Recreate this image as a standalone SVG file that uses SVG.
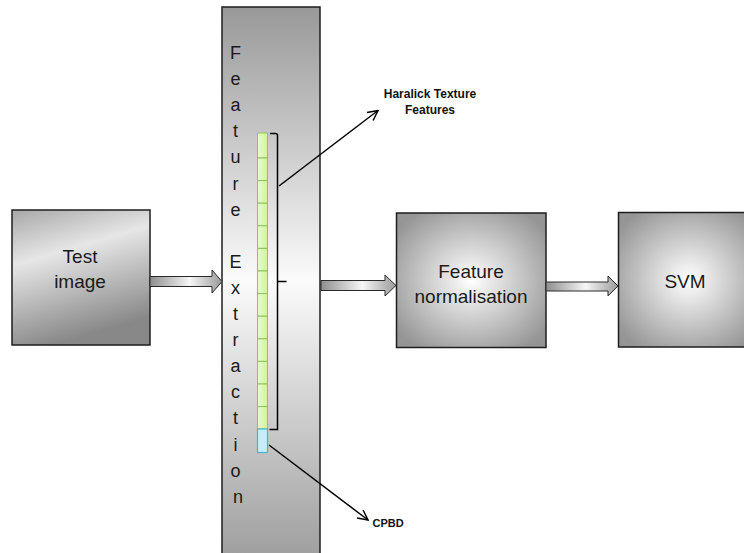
<svg xmlns="http://www.w3.org/2000/svg" width="744" height="553" viewBox="0 0 744 553">
  <defs>
    <linearGradient id="colGrad" gradientUnits="userSpaceOnUse" x1="0" y1="8" x2="0" y2="553">
      <stop offset="0" stop-color="#999999"/>
      <stop offset="0.5" stop-color="#fbfbfb"/>
      <stop offset="1" stop-color="#a0a0a0"/>
    </linearGradient>
    <linearGradient id="testGrad" x1="0" y1="0" x2="0.3" y2="1">
      <stop offset="0" stop-color="#a8a8a8"/>
      <stop offset="0.38" stop-color="#e6e6e6"/>
      <stop offset="1" stop-color="#888888"/>
    </linearGradient>
    <radialGradient id="boxGrad" cx="0.5" cy="0.5" r="0.62">
      <stop offset="0" stop-color="#ffffff"/>
      <stop offset="1" stop-color="#959595"/>
    </radialGradient>
    <linearGradient id="arrGrad" x1="0" y1="0" x2="1" y2="0">
      <stop offset="0" stop-color="#8e8e8e"/>
      <stop offset="0.55" stop-color="#f6f6f6"/>
      <stop offset="1" stop-color="#9a9a9a"/>
    </linearGradient>
    <linearGradient id="greenGrad" x1="0" y1="0" x2="1" y2="0">
      <stop offset="0" stop-color="#e9fcc8"/>
      <stop offset="1" stop-color="#d3f29c"/>
    </linearGradient>
    <marker id="open" viewBox="0 0 12 12" refX="11" refY="6" markerWidth="12" markerHeight="12" markerUnits="userSpaceOnUse" orient="auto">
      <path d="M1,1 L11,6 L1,11" fill="none" stroke="#000" stroke-width="1.5"/>
    </marker>
    <style>
      .box { stroke: #1e1e1e; stroke-width: 1.5; }
      .lbl { font-family: "Liberation Sans", Arial, sans-serif; font-size: 19px; fill: #1a1a1a; text-anchor: middle; }
      .col { font-family: "Liberation Sans", Arial, sans-serif; font-size: 18px; fill: #1a1a1a; text-anchor: middle; }
      .note { font-family: "Liberation Sans", Arial, sans-serif; font-weight: bold; fill: #111; }
      .blk { fill: url(#arrGrad); stroke: #2a2a2a; stroke-width: 1; }
      .cell { fill: url(#greenGrad); stroke: #93c255; stroke-width: 1; }
      .ln { fill: none; stroke: #000; stroke-width: 1.5; }
    </style>
  </defs>

  <g id="feature-extraction">
    <rect class="box" x="222" y="7" width="98" height="560" fill="url(#colGrad)"/>
    <text class="col">
      <tspan x="238" y="59">F</tspan>
      <tspan x="238" y="85.1">e</tspan>
      <tspan x="238" y="111.2">a</tspan>
      <tspan x="238" y="137.3">t</tspan>
      <tspan x="238" y="163.4">u</tspan>
      <tspan x="238" y="189.5">r</tspan>
      <tspan x="238" y="215.6">e</tspan>
      <tspan x="238" y="267.8">E</tspan>
      <tspan x="238" y="293.9">x</tspan>
      <tspan x="238" y="320">t</tspan>
      <tspan x="238" y="346.1">r</tspan>
      <tspan x="238" y="372.2">a</tspan>
      <tspan x="238" y="398.3">c</tspan>
      <tspan x="238" y="424.4">t</tspan>
      <tspan x="238" y="450.5">i</tspan>
      <tspan x="238" y="476.6">o</tspan>
      <tspan x="238" y="502.7">n</tspan>
    </text>
    <g id="feature-vector">
      <rect class="cell" x="257.5" y="133" width="10" height="25"/>
      <rect class="cell" x="257.5" y="158" width="10" height="22.6"/>
      <rect class="cell" x="257.5" y="180.6" width="10" height="22.6"/>
      <rect class="cell" x="257.5" y="203.2" width="10" height="22.6"/>
      <rect class="cell" x="257.5" y="225.8" width="10" height="22.6"/>
      <rect class="cell" x="257.5" y="248.4" width="10" height="22.6"/>
      <rect class="cell" x="257.5" y="271" width="10" height="22.6"/>
      <rect class="cell" x="257.5" y="293.6" width="10" height="22.6"/>
      <rect class="cell" x="257.5" y="316.2" width="10" height="22.6"/>
      <rect class="cell" x="257.5" y="338.8" width="10" height="22.6"/>
      <rect class="cell" x="257.5" y="361.4" width="10" height="22.6"/>
      <rect class="cell" x="257.5" y="384" width="10" height="22.6"/>
      <rect class="cell" x="257.5" y="406.6" width="10" height="22.4"/>
      <rect x="257.5" y="429" width="10" height="23.5" fill="#c6eefa" stroke="#45b4d6" stroke-width="1.2"/>
    </g>
    <path class="ln" d="M270,133.5 H275.5 Q277.5,133.5 277.5,135.5 V281.5 H286.5 M277.5,281.5 V429.5 H269.5"/>
  </g>

  <g id="test-image">
    <rect class="box" x="12" y="210" width="138" height="135" fill="url(#testGrad)"/>
    <text class="lbl" x="80" y="263">Test</text>
    <text class="lbl" x="80" y="288">image</text>
  </g>

  <g id="feature-normalisation">
    <rect class="box" x="396.5" y="213" width="149.5" height="134.5" fill="url(#boxGrad)"/>
    <text class="lbl" x="471" y="278">Feature</text>
    <text class="lbl" x="471" y="303">normalisation</text>
  </g>

  <g id="svm">
    <rect class="box" x="618.5" y="212.5" width="140" height="134.5" fill="url(#boxGrad)"/>
    <text class="lbl" x="685" y="288">SVM</text>
  </g>

  <g id="haralick-label">
    <text class="note" x="430" y="98" font-size="12" text-anchor="middle">Haralick Texture</text>
    <text class="note" x="430" y="114" font-size="12" text-anchor="middle">Features</text>
  </g>

  <g id="cpbd-label">
    <text class="note" x="372.5" y="527" font-size="11">CPBD</text>
  </g>

  <g id="connectors">
    <path class="blk" d="M150,276.5 H212 V270 L222,281.5 L212,293 V286.5 H150 Z"/>
    <path class="blk" d="M321,280.5 H385 V275 L396,285.5 L385,296 V290.5 H321 Z"/>
    <path class="blk" d="M546,282 H608 V276 L618,286 L608,296 V291 H546 Z"/>
    <line class="ln" x1="279" y1="186" x2="378" y2="110.5" marker-end="url(#open)"/>
    <line class="ln" x1="269" y1="445" x2="368" y2="520" marker-end="url(#open)"/>
  </g>
</svg>
